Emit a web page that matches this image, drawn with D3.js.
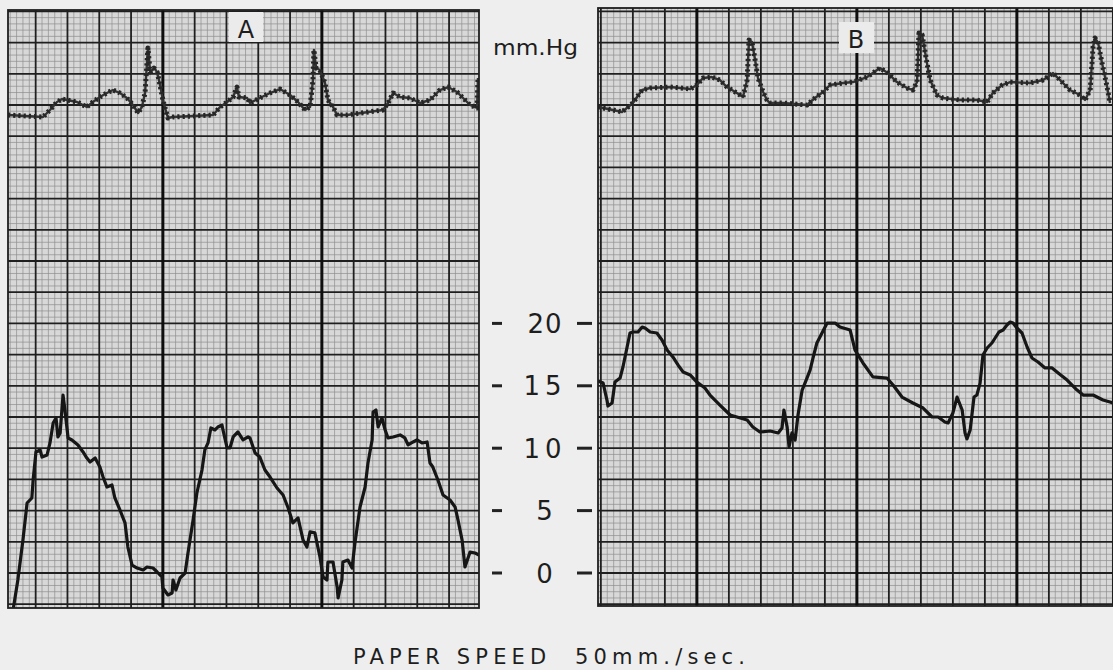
<!DOCTYPE html>
<html><head><meta charset="utf-8">
<script src="https://cdn.jsdelivr.net/npm/d3@7/dist/d3.min.js"></script>
<style>body{margin:0;background:#eeeeee;} svg{display:block}</style>
</head><body><svg id="c" width="1113" height="670"></svg>
<script>
// ---- DATA (time in s from each strip's left edge, pressure on the mm.Hg scale) ----
const pressureTicks = [0, 5, 10, 15, 20];
const pressureTickLabels = ["0", "5", "10", "15", "20"];
const unitLabel = "mm.Hg";
const caption = "PAPER SPEED  50mm./sec.";
const panelNames = ["A", "B"];

const aUpper = [[0,36.70],[0.110,36.54],[0.132,37.10],[0.154,37.74],[0.170,37.98],[0.186,37.90],[0.217,37.74],[0.248,37.34],[0.267,37.74],[0.289,38.14],[0.311,38.46],[0.330,38.70],[0.352,38.46],[0.374,38.06],[0.393,37.50],[0.409,36.86],[0.421,37.34],[0.431,38.46],[0.440,42.07],[0.447,40.14],[0.459,40.46],[0.469,40.14],[0.478,39.10],[0.487,37.90],[0.503,36.46],[0.519,36.54],[0.645,36.70],[0.667,37.34],[0.689,37.74],[0.708,38.14],[0.720,38.94],[0.726,38.14],[0.752,38.06],[0.761,37.66],[0.792,38.06],[0.824,38.46],[0.855,38.78],[0.887,38.30],[0.912,37.74],[0.934,37.10],[0.950,37.34],[0.959,39.50],[0.962,41.91],[0.969,40.46],[0.981,40.30],[0.997,39.26],[1.006,37.90],[1.022,37.34],[1.035,36.70],[1.066,36.70],[1.179,37.10],[1.195,37.66],[1.211,38.46],[1.233,38.14],[1.264,38.06],[1.296,37.66],[1.327,37.90],[1.358,38.70],[1.384,38.94],[1.412,38.54],[1.431,38.06],[1.453,37.50],[1.475,37.26],[1.478,39.66]];

const aLower = [[0.016,-2.96],[0.031,-0.56],[0.047,2.64],[0.060,5.61],[0.075,6.01],[0.079,7.45],[0.088,9.70],[0.101,9.86],[0.107,9.29],[0.123,9.46],[0.132,10.42],[0.142,12.02],[0.151,12.42],[0.157,10.90],[0.164,11.22],[0.173,14.26],[0.179,13.06],[0.189,10.82],[0.201,10.66],[0.220,10.26],[0.236,9.70],[0.248,9.21],[0.258,8.89],[0.274,9.21],[0.289,8.49],[0.299,7.69],[0.311,6.89],[0.327,7.05],[0.336,6.01],[0.352,5.05],[0.368,4.01],[0.377,2.08],[0.390,0.64],[0.406,0.40],[0.425,0.24],[0.437,0.48],[0.456,0.40],[0.469,0.08],[0.484,-0.32],[0.487,-1.20],[0.503,-1.76],[0.516,-1.60],[0.519,-0.56],[0.528,-1.36],[0.541,-0.40],[0.557,0.00],[0.566,1.60],[0.582,4.25],[0.594,6.41],[0.610,8.25],[0.619,9.86],[0.629,10.42],[0.638,11.62],[0.651,11.46],[0.660,11.70],[0.673,11.86],[0.676,11.46],[0.689,10.02],[0.698,10.02],[0.708,10.90],[0.723,11.30],[0.739,10.66],[0.755,10.90],[0.761,10.82],[0.777,9.62],[0.792,9.29],[0.808,8.25],[0.824,7.69],[0.846,6.81],[0.865,6.25],[0.881,5.21],[0.896,4.01],[0.912,4.41],[0.928,2.64],[0.940,2.08],[0.950,3.29],[0.965,3.21],[0.981,1.28],[0.991,-0.32],[1.003,-0.56],[1.006,0.88],[1.022,0.88],[1.035,-1.12],[1.038,-2.00],[1.050,-0.56],[1.053,0.88],[1.069,1.04],[1.082,0.40],[1.091,2.40],[1.107,5.29],[1.123,6.89],[1.132,8.81],[1.145,10.66],[1.148,12.90],[1.157,13.06],[1.164,11.70],[1.176,12.42],[1.186,11.46],[1.195,10.82],[1.211,10.90],[1.233,11.06],[1.248,10.82],[1.258,10.26],[1.274,10.50],[1.286,10.66],[1.302,10.42],[1.318,10.50],[1.327,8.81],[1.336,8.49],[1.352,7.45],[1.368,6.25],[1.390,5.85],[1.406,5.29],[1.415,4.25],[1.428,2.64],[1.437,0.48],[1.453,1.68],[1.469,1.60],[1.481,1.44]];

const bUpper = [[0,37.34],[0.016,37.26],[0.047,37.10],[0.075,36.94],[0.094,37.34],[0.109,37.66],[0.122,38.14],[0.138,38.70],[0.163,38.86],[0.225,38.94],[0.288,38.78],[0.309,39.10],[0.328,39.66],[0.356,39.74],[0.381,39.50],[0.403,38.94],[0.434,38.46],[0.453,38.14],[0.466,39.50],[0.472,42.71],[0.481,42.55],[0.491,41.11],[0.500,39.66],[0.516,38.54],[0.528,37.90],[0.538,37.66],[0.578,37.66],[0.653,37.50],[0.678,38.06],[0.703,38.54],[0.725,39.10],[0.766,39.26],[0.797,39.34],[0.841,39.74],[0.881,40.46],[0.906,40.06],[0.934,39.34],[0.966,38.86],[0.984,38.70],[0.997,39.34],[1.003,43.27],[1.013,43.11],[1.028,40.87],[1.038,39.50],[1.059,38.30],[1.078,38.06],[1.131,37.90],[1.184,37.90],[1.216,37.74],[1.234,38.46],[1.263,39.10],[1.288,39.34],[1.350,39.26],[1.391,39.50],[1.422,40.06],[1.444,39.50],[1.475,38.70],[1.506,38.30],[1.522,37.90],[1.538,38.70],[1.547,42.15],[1.553,42.87],[1.563,42.47],[1.575,40.87],[1.591,38.94],[1.600,37.66]];

const bLower = [[0,15.38],[0.016,15.22],[0.028,13.86],[0.031,13.38],[0.044,13.62],[0.053,15.30],[0.069,15.62],[0.078,16.51],[0.091,18.11],[0.100,19.23],[0.109,19.31],[0.125,19.31],[0.138,19.71],[0.147,19.63],[0.163,19.31],[0.184,19.23],[0.200,18.67],[0.216,17.87],[0.234,17.31],[0.250,16.67],[0.266,16.11],[0.288,15.87],[0.309,15.30],[0.334,14.82],[0.350,14.26],[0.381,13.46],[0.413,12.66],[0.434,12.50],[0.466,12.26],[0.484,11.70],[0.506,11.30],[0.538,11.38],[0.563,11.22],[0.575,11.62],[0.581,13.06],[0.591,11.70],[0.597,10.10],[0.606,11.22],[0.616,10.66],[0.625,12.66],[0.638,14.66],[0.653,15.62],[0.663,16.27],[0.672,17.23],[0.684,18.43],[0.700,19.23],[0.716,20.03],[0.741,20.03],[0.756,19.71],[0.788,19.47],[0.803,17.87],[0.828,16.83],[0.859,15.71],[0.903,15.62],[0.922,15.06],[0.950,14.10],[0.984,13.62],[1.016,13.22],[1.044,12.50],[1.063,12.50],[1.084,12.10],[1.094,12.02],[1.109,12.82],[1.122,14.10],[1.138,13.06],[1.147,11.22],[1.153,10.74],[1.163,11.46],[1.175,14.10],[1.184,14.26],[1.194,15.22],[1.203,17.47],[1.216,18.03],[1.231,18.43],[1.241,18.83],[1.253,19.31],[1.266,19.47],[1.278,19.87],[1.288,20.11],[1.297,20.03],[1.309,19.63],[1.325,19.23],[1.341,18.11],[1.356,17.23],[1.375,16.91],[1.397,16.43],[1.419,16.43],[1.438,16.03],[1.466,15.46],[1.497,14.66],[1.516,14.26],[1.547,14.26],[1.578,13.86],[1.600,13.70],[1.609,13.62]];

// ---- LAYOUT ----
const W = 1113, H = 670;
const svg = d3.select('#c');
svg.append('rect').attr('width', W).attr('height', H).attr('fill', '#eeeeee');

const y = d3.scaleLinear().domain([0, 20]).range([573, 323.4]);

const panels = [
  {name: panelNames[0], x0: 8, x1: 479, top: 10, bottom: 608, pps: 318, tBold: 0.487, upper: aUpper, lower: aLower, box: [229, 12, 34, 30], lab: [246, 38]},
  {name: panelNames[1], x0: 598, x1: 1113, top: 8, bottom: 606, pps: 320, tBold: 0.309, upper: bUpper, lower: bLower, box: [839, 22, 35, 31], lab: [856, 48]}
];

const font = "'DejaVu Sans', 'Open Sans', sans-serif";

panels.forEach((p, pi) => {
  const x = d3.scaleLinear().domain([0, (p.x1 - p.x0) / p.pps]).range([p.x0, p.x1]);
  const g = svg.append('g');
  const clipId = 'clip' + pi;
  svg.append('clipPath').attr('id', clipId).append('rect')
    .attr('x', p.x0).attr('y', p.top).attr('width', p.x1 - p.x0).attr('height', p.bottom - p.top);
  const inner = g.append('g').attr('clip-path', `url(#${clipId})`);
  inner.append('rect').attr('x', p.x0).attr('y', p.top).attr('width', p.x1 - p.x0).attr('height', p.bottom - p.top).attr('fill', '#d8d8d8');

  const [t0, t1] = x.domain();
  const vLines = [];
  for (let i = -400; i <= 400; i++) {
    const t = p.tBold + i * 0.02;
    if (t < t0 || t > t1) continue;
    const k = ((i % 25) + 25) % 25;
    vLines.push({t, cls: k === 0 ? 'bold' : (i % 5 === 0 ? 'med' : 'fine')});
  }
  const vmin = y.invert(p.bottom), vmax = y.invert(p.top);
  const hLines = [];
  for (let i = -100; i <= 200; i++) {
    const v = i * 0.5;
    if (v < vmin || v > vmax) continue;
    hLines.push({v, cls: i % 5 === 0 ? 'med' : 'fine'});
  }
  const style = {fine: ['#8e8e8e', 0.7], med: ['#1f1f1f', 1.8], bold: ['#0e0e0e', 3]};
  ['fine', 'med', 'bold'].forEach(c => {
    inner.selectAll(null).data(hLines.filter(d => d.cls === c)).enter().append('line')
      .attr('x1', p.x0).attr('x2', p.x1).attr('y1', d => y(d.v)).attr('y2', d => y(d.v))
      .attr('stroke', style[c][0]).attr('stroke-width', style[c][1]);
    inner.selectAll(null).data(vLines.filter(d => d.cls === c)).enter().append('line')
      .attr('y1', p.top).attr('y2', p.bottom).attr('x1', d => x(d.t)).attr('x2', d => x(d.t))
      .attr('stroke', style[c][0]).attr('stroke-width', style[c][1]);
  });

  // label box
  inner.append('rect').attr('x', p.box[0]).attr('y', p.box[1]).attr('width', p.box[2]).attr('height', p.box[3]).attr('fill', '#ebebeb');
  inner.append('text').attr('x', p.lab[0]).attr('y', p.lab[1]).attr('text-anchor', 'middle')
    .attr('font-family', font).attr('font-size', 24).attr('fill', '#1e1e1e').text(p.name);

  const line = d3.line().x(d => x(d[0])).y(d => y(d[1]));
  // upper trace with ripple look
  inner.append('path').attr('d', line(p.upper)).attr('fill', 'none').attr('stroke', '#333').attr('stroke-width', 2.4).attr('stroke-linejoin', 'round');
  inner.append('path').attr('d', line(p.upper)).attr('fill', 'none').attr('stroke', '#262626').attr('stroke-width', 5)
    .attr('stroke-dasharray', '2.2,3').attr('stroke-linejoin', 'round');
  inner.append('path').attr('d', line(p.lower)).attr('fill', 'none').attr('stroke', '#161616').attr('stroke-width', 3.2)
    .attr('stroke-linejoin', 'round').attr('stroke-linecap', 'round');

  g.append('rect').attr('x', p.x0).attr('y', p.top).attr('width', p.x1 - p.x0).attr('height', p.bottom - p.top)
    .attr('fill', 'none').attr('stroke', '#1e1e1e').attr('stroke-width', 1.8);
});

// middle scale
const mid = svg.append('g');
mid.append('text').attr('x', 493).attr('y', 55).attr('font-family', font)
  .attr('font-size', 21).attr('fill', '#1e1e1e').attr('textLength', 85).attr('lengthAdjust', 'spacingAndGlyphs').text(unitLabel);
pressureTicks.forEach((v, i) => {
  mid.append('line').attr('x1', 492).attr('x2', 502).attr('y1', y(v)).attr('y2', y(v)).attr('stroke', '#222').attr('stroke-width', 3);
  mid.append('line').attr('x1', 577).attr('x2', 592).attr('y1', y(v)).attr('y2', y(v)).attr('stroke', '#222').attr('stroke-width', 3);
  mid.append('text').attr('x', 545).attr('y', y(v) + 9.5).attr('text-anchor', 'middle').attr('font-family', font)
    .attr('font-size', 26).attr('letter-spacing', pressureTickLabels[i].startsWith('1') ? 5 : 1)
    .attr('fill', '#1e1e1e').text(pressureTickLabels[i]);
});

svg.append('text').attr('x', 353).attr('y', 664).attr('font-family', font).attr('font-size', 21)
  .attr('fill', '#1e1e1e').attr('textLength', 392).attr('lengthAdjust', 'spacing').style('white-space', 'pre').text(caption);
</script></body></html>
